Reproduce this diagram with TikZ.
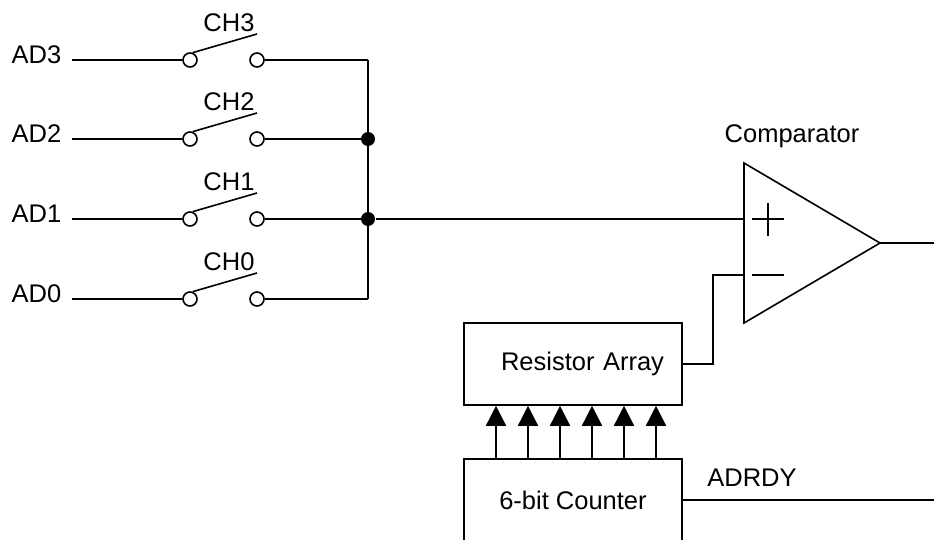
\documentclass[tikz,border=0pt]{standalone}
\usepackage{fontspec}
\setmainfont{Liberation Sans}
\usetikzlibrary{arrows.meta}
\begin{document}
\begin{tikzpicture}[
		x=1pt, y=-1pt,
		line width=1.6pt,
		every node/.style={font=\fontsize{25.5}{30}\selectfont},
		contact/.style={circle,draw,fill=white,inner sep=0pt,minimum size=14pt},
		junction/.style={circle,fill,inner sep=0pt,minimum size=14pt},
		block/.style={rectangle,draw,minimum width=218pt,minimum height=82pt}
	]
	\useasboundingbox (0,0) rectangle (934,539);
	% input channels
	\foreach \n/\y in {3/60,2/139,1/219,0/299} {
		\node[anchor=east,inner xsep=10pt] (ad\n) at (72,\y-5) {AD\n};
		\node[contact] (in\n) at (190,\y) {};
		\node[contact] (out\n) at (257,\y) {};
		\coordinate (bus\n) at (368,\y);
		\coordinate (blade\n) at (257,\y-26);
		\node (ch\n) at (229,\y-37) {CH\n};
		\draw (ad\n.east |- in\n) -- (in\n);
		\draw (out\n) -- (bus\n);
		\draw (in\n.70) -- (blade\n);
	}
	\draw (bus3) -- (bus0);
	\node[junction] (j2) at (bus2) {};
	\node[junction] (j1) at (bus1) {};

	% comparator
	\coordinate (cmp plus) at (744,219);
	\coordinate (cmp minus) at (744,275);
	\coordinate (cmp out) at (880,243);
	\coordinate (cmp end) at (934,243);
	\draw (744,163) -- (cmp out) -- (744,323) -- cycle;
	\draw (752,219) -- (784,219) (768,203) -- (768,236);
	\draw (752,275) -- (784,275);
	\node (cmp) at (792,136) {Comparator};
	\draw (j1) -- (cmp plus);
	\draw (cmp out) -- (cmp end);

	% resistor array and counter
	\node[block,inner xsep=18pt,text width=182pt,align=right] (res) at (573,364) {Resistor Array};
	\node[block] (cnt) at (573,500) {6-bit Counter};
	\foreach \x in {496,528,...,656}
		\draw[-{Triangle[length=20pt,width=20pt]}] (\x,0 |- cnt.north) -- (\x,0 |- res.south);
	\draw (res.east) -- ++(30,0) |- (cmp minus);

	\coordinate (adrdy end) at (934,500);
	\draw (cnt.east) -- (adrdy end);
	\node (adrdy) at (752,478) {ADRDY};
\end{tikzpicture}
\end{document}
